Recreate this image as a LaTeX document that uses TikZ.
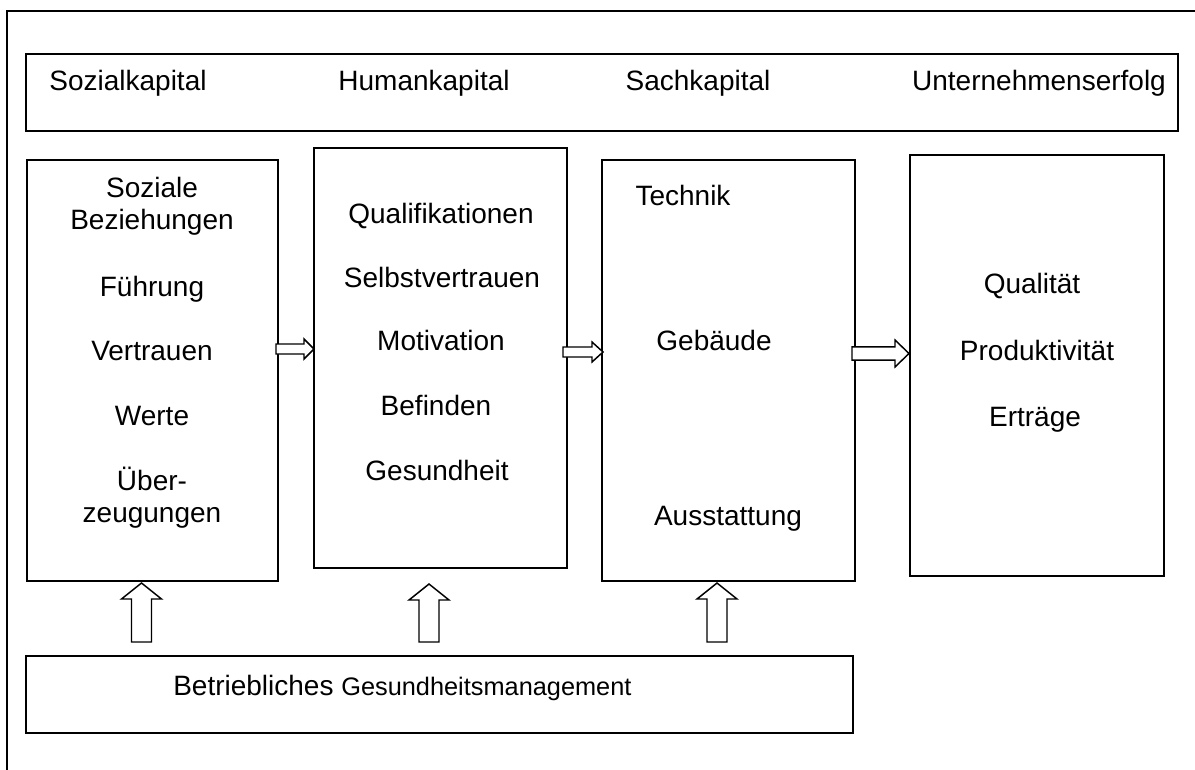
\documentclass[tikz,border=0pt]{standalone}
\usepackage{fontspec}
\setmainfont{Liberation Sans}
\usetikzlibrary{calc,fit}
\tikzset{
  box/.style={draw, line width=1.4pt, inner sep=0pt},
  lbl/.style={font=\fontsize{21}{25}\selectfont, anchor=base, inner sep=0pt},
  blockarrow/.style={draw, line width=1.1pt, fill=white, line join=miter},
}
% right-pointing block arrow: start, end, shaft half, head half, head length
\newcommand\rblockarrow[5]{%
  \draw[blockarrow] let \p1=(#1), \p2=(#2) in
    (\x1,\y1+#3) -- (\x2-#5,\y1+#3) -- (\x2-#5,\y1+#4) -- (\x2,\y1) --
    (\x2-#5,\y1-#4) -- (\x2-#5,\y1-#3) -- (\x1,\y1-#3) -- cycle;}
% up-pointing block arrow: bottom, tip, shaft half, head half, head length
\newcommand\ublockarrow[5]{%
  \draw[blockarrow] let \p1=(#1), \p2=(#2) in
    (\x1-#3,\y1) -- (\x1-#3,\y2-#5) -- (\x1-#4,\y2-#5) -- (\x1,\y2) --
    (\x1+#4,\y2-#5) -- (\x1+#3,\y2-#5) -- (\x1+#3,\y1) -- cycle;}
\begin{document}
\begin{tikzpicture}[x=0.75pt,y=-0.75pt]
\useasboundingbox (0,0) rectangle (1195,770);
% outer frame (partly cut off)
\draw[line width=1.1pt] (7,770) -- (7,11) -- (1195,11);

% boxes
\node[box, fit={(26,54)(1178,131)}] (top) {};
\node[box, fit={(27,160)(278,581)}] (b1) {};
\node[box, fit={(314,148)(567,568)}] (b2) {};
\node[box, fit={(602,160)(855,581)}] (b3) {};
\node[box, fit={(910,155)(1164,576)}] (b4) {};
\node[box, fit={(26,656)(853,733)}] (bgm) {};

% top row labels
\node[lbl] (t1) at (128,91) {Sozialkapital};
\node[lbl] (t2) at (424,91) {Humankapital};
\node[lbl] (t3) at (698,91) {Sachkapital};
\node[lbl] (t4) at (1039,91) {Unternehmenserfolg};

% box 1
\node[lbl] (s1) at (152,197) {Soziale};
\node[lbl] (s2) at (152,229) {Beziehungen};
\node[lbl] (s3) at (152,296) {Führung};
\node[lbl] (s4) at (152,360) {Vertrauen};
\node[lbl] (s5) at (152,425) {Werte};
\node[lbl] (s6) at (152,490) {Über-};
\node[lbl] (s7) at (152,522) {zeugungen};

% box 2
\node[lbl] (h1) at (441,223) {Qualifikationen};
\node[lbl] (h2) at (442,287) {Selbstvertrauen};
\node[lbl] (h3) at (441,350) {Motivation};
\node[lbl] (h4) at (436,415) {Befinden};
\node[lbl] (h5) at (437,480) {Gesundheit};

% box 3
\node[lbl] (k1) at (683,205) {Technik};
\node[lbl] (k2) at (714,350) {Gebäude};
\node[lbl] (k3) at (728,525) {Ausstattung};

% box 4
\node[lbl] (e1) at (1032,293) {Qualität};
\node[lbl] (e2) at (1037,360) {Produktivität};
\node[lbl] (e3) at (1035,426) {Erträge};

% bottom label
\node[anchor=base west, inner sep=0pt] (bl) at (173,695)
  {\fontsize{21}{25}\selectfont Betriebliches \fontsize{19}{23}\selectfont Gesundheitsmanagement};

% horizontal arrows
\coordinate (r1a) at (276,349);   \coordinate (r1b) at (314,349);
\coordinate (r2a) at (563,352);   \coordinate (r2b) at (603,352);
\coordinate (r3a) at (852,353.5); \coordinate (r3b) at (909,353.5);
\rblockarrow{r1a}{r1b}{3.75pt}{7.5pt}{7.5pt}
\rblockarrow{r2a}{r2b}{3.75pt}{7.5pt}{8.25pt}
\rblockarrow{r3a}{r3b}{4.9pt}{10.1pt}{10.5pt}

% up arrows
\coordinate (u1a) at (141.5,642); \coordinate (u1b) at (141.5,583);
\coordinate (u2a) at (429,642);   \coordinate (u2b) at (429,584);
\coordinate (u3a) at (717,642);   \coordinate (u3b) at (717,583);
\ublockarrow{u1a}{u1b}{7.5pt}{15pt}{12pt}
\ublockarrow{u2a}{u2b}{7.5pt}{15pt}{12pt}
\ublockarrow{u3a}{u3b}{7.5pt}{15pt}{12pt}
\end{tikzpicture}
\end{document}
